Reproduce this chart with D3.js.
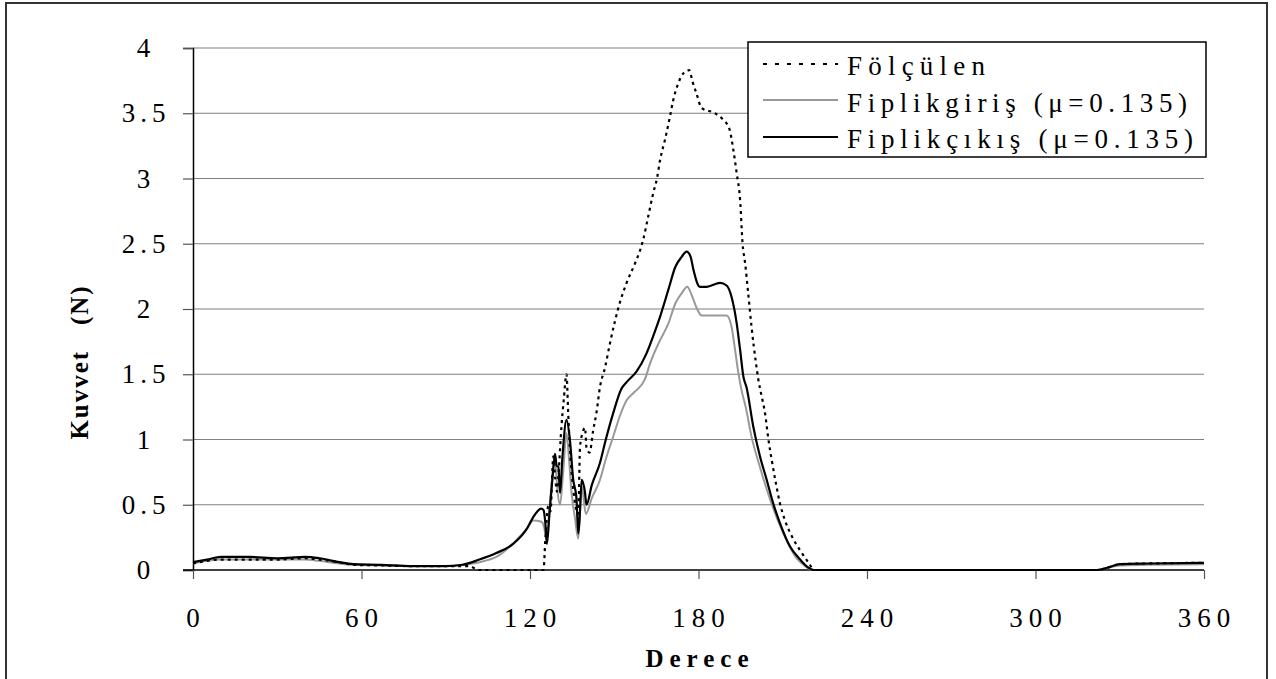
<!DOCTYPE html>
<html><head><meta charset="utf-8">
<script src="https://cdn.jsdelivr.net/npm/d3@7"></script>
<style>body{margin:0;background:#fff}svg{display:block}text{font-family:"Liberation Serif","Times New Roman",serif}</style>
</head><body>
<svg id="c" width="1276" height="679"></svg>
<script>
const xTicks = [0,60,120,180,240,300,360];
const yTicks = [0,0.5,1,1.5,2,2.5,3,3.5,4];
const yTickLabels = ["0","0.5","1","1.5","2","2.5","3","3.5","4"];
const seriesNames = ["Fölçülen","Fiplikgiriş (μ=0.135)","Fiplikçıkış (μ=0.135)"];

const degOlculen = [0,5,10,20,30,40,45,52,57,67,78,90,98,102,124.8,125.5,126.5,127.3,128.3,129,129.6,130.2,131.2,132,133,133.6,134.2,135.5,137.2,137.8,138.7,139.6,140.1,141.2,142.5,143.7,144.9,146.7,148.5,152,154.4,157.4,159.2,160.4,162.1,163.9,165.3,166.3,168.1,169.8,171,172.8,174.8,176.7,177.9,179.3,181.1,185.9,188.8,191,192.4,193.6,194.8,195.7,196.6,197.7,198.9,200.5,201.3,202.5,203.7,204.9,206.1,207.6,209,210.8,213.2,216.2,219.7,221,240,300,322,326,330,340,360];
const valOlculen = [0.05,0.07,0.08,0.08,0.08,0.09,0.08,0.06,0.04,0.035,0.03,0.03,0.03,0,0,0.25,0.49,0.45,0.87,0.70,0.60,0.75,1.10,1.30,1.50,1.20,0.94,0.60,0.43,0.94,1.05,1.09,0.94,0.90,1.07,1.21,1.40,1.55,1.74,2.05,2.20,2.35,2.45,2.54,2.71,2.89,3.01,3.14,3.30,3.47,3.60,3.73,3.81,3.83,3.74,3.65,3.54,3.50,3.45,3.38,3.22,3.04,2.84,2.50,2.35,2.12,1.86,1.58,1.46,1.33,1.20,1.00,0.84,0.66,0.51,0.38,0.26,0.15,0.04,0,0,0,0,0.02,0.045,0.05,0.055];

const degGiris = [0,5,10,20,30,40,45,52,57,67,78,90,96,102,108,115.2,119,121.2,124.1,125,125.9,127,128.9,129.8,130.7,131.8,133,133.9,134.8,136,137.2,138.4,139.9,142,144.9,147,149.6,152,154.4,157,160.9,162.7,166.3,169.3,171.7,174,176,177.5,179.3,181.1,190,191.8,193,194.2,195.3,196.8,198.9,202,205.5,210.2,214.9,218,220.5,240,300,322,326,330,340,360];
const valGiris = [0.05,0.07,0.08,0.08,0.08,0.08,0.07,0.05,0.04,0.035,0.03,0.03,0.04,0.06,0.10,0.23,0.32,0.38,0.37,0.33,0.23,0.50,0.84,0.60,0.50,0.75,1.05,0.85,0.59,0.40,0.24,0.64,0.43,0.55,0.69,0.85,1.02,1.18,1.30,1.36,1.46,1.58,1.76,1.89,2.04,2.12,2.17,2.11,2.01,1.95,1.95,1.86,1.69,1.51,1.38,1.25,1.02,0.78,0.54,0.28,0.09,0.03,0,0,0,0,0.02,0.035,0.04,0.045];

const degCikis = [0,5,10,20,30,40,45,52,57,67,78,90,96,102,108,114,119,121,124,124.8,125.5,126,127,128,128.9,129.5,130.1,130.7,131.5,133,134.2,135.4,136.5,137.2,137.8,138.4,139.6,140.1,142,144.9,147,149.6,152.6,154.4,157.9,161.5,164,166.3,169.3,171.7,174,175.8,177.2,178.2,180.5,182.9,187.7,190,191.8,193.6,194.8,196,197.1,199.5,201.9,204.3,206.6,209,212.6,216.2,219,221,240,300,322,326,330,340,360];
const valCikis = [0.06,0.08,0.10,0.10,0.09,0.10,0.09,0.06,0.045,0.04,0.03,0.03,0.04,0.08,0.13,0.20,0.32,0.40,0.47,0.46,0.35,0.20,0.45,0.70,0.89,0.80,0.79,0.59,0.85,1.15,1.00,0.69,0.56,0.28,0.45,0.69,0.59,0.50,0.65,0.82,1.00,1.20,1.39,1.44,1.52,1.66,1.80,1.94,2.15,2.32,2.40,2.44,2.40,2.30,2.17,2.17,2.20,2.18,2.09,1.89,1.69,1.48,1.40,1.10,0.87,0.69,0.51,0.36,0.18,0.08,0.02,0,0,0,0,0.02,0.045,0.05,0.055];

const svg = d3.select("#c");
const L = 193, R = 1204, T = 48, B = 570;
const x = d3.scaleLinear().domain([0,360]).range([L,R]);
const y = d3.scaleLinear().domain([0,4]).range([B,T]);

// outer frame
svg.append("rect").attr("x",6).attr("y",3).attr("width",1261).attr("height",700)
  .attr("fill","none").attr("stroke","#333").attr("stroke-width",2);

// gridlines
svg.append("g").selectAll("line").data(yTicks.filter(d=>d>0)).join("line")
  .attr("x1",L).attr("x2",R).attr("y1",d=>y(d)).attr("y2",d=>y(d))
  .attr("stroke","#808080").attr("stroke-width",1.2);

// y axis
const yAxis = svg.append("g").attr("transform",`translate(${L},0)`)
  .call(d3.axisLeft(y).tickValues(yTicks).tickSize(10).tickFormat(""));
yAxis.select(".domain").attr("stroke","#000").attr("stroke-width",1.5);
yAxis.selectAll(".tick line").attr("stroke","#555").attr("stroke-width",1.2);
svg.append("g").selectAll("text").data(yTicks).join("text")
  .attr("x",146).attr("y",d=>y(d)+9).attr("text-anchor","middle")
  .attr("font-size",27).style("letter-spacing","5px")
  .text((d,i)=>yTickLabels[i]);

// x axis
const xAxis = svg.append("g").attr("transform",`translate(0,${B})`)
  .call(d3.axisBottom(x).tickValues(xTicks).tickSize(9).tickFormat(""));
xAxis.select(".domain").attr("stroke","#000").attr("stroke-width",1.5).attr("d",`M${L-10},0H${R}`);
xAxis.selectAll(".tick line").attr("stroke","#555").attr("stroke-width",1.2);
svg.append("g").selectAll("text").data(xTicks).join("text")
  .attr("x",d=>x(d)+3).attr("y",627).attr("text-anchor","middle")
  .attr("font-size",27).style("letter-spacing","6px")
  .text(d=>String(d));

// axis titles
svg.append("text").attr("x",700).attr("y",667).attr("text-anchor","middle")
  .attr("font-size",25).attr("font-weight","bold").style("letter-spacing","6px").text("Derece");
svg.append("text").attr("transform","translate(88,362) rotate(-90)").attr("text-anchor","middle")
  .attr("font-size",25).attr("font-weight","bold").style("letter-spacing","2px").style("white-space","pre")
  .text("Kuvvet   (N)");

// lines
const line = d3.line().x(d=>x(d[0])).y(d=>y(d[1])).curve(d3.curveMonotoneX);
const zip = (a,b)=>a.map((d,i)=>[d,b[i]]);
svg.append("path").datum(zip(degGiris,valGiris)).attr("d",line)
  .attr("fill","none").attr("stroke","#999").attr("stroke-width",2);
svg.append("path").datum(zip(degOlculen,valOlculen)).attr("d",line)
  .attr("fill","none").attr("stroke","#000").attr("stroke-width",2.2).attr("stroke-dasharray","3,4");
svg.append("path").datum(zip(degCikis,valCikis)).attr("d",line)
  .attr("fill","none").attr("stroke","#000").attr("stroke-width",2.2);

// legend
const lg = svg.append("g");
lg.append("rect").attr("x",748).attr("y",42).attr("width",458).attr("height",115)
  .attr("fill","#fff").attr("stroke","#000").attr("stroke-width",1.5);
const rows = [
  {name:seriesNames[0], stroke:"#000", dash:"4,8", ly:64, ty:75, w:138},
  {name:seriesNames[1], stroke:"#999", dash:null, ly:100, ty:112, w:340},
  {name:seriesNames[2], stroke:"#000", dash:null, ly:137, ty:148, w:346}
];
rows.forEach(r=>{
  const ln = lg.append("line").attr("x1",763).attr("x2",838).attr("y1",r.ly).attr("y2",r.ly)
    .attr("stroke",r.stroke).attr("stroke-width",2);
  if(r.dash) ln.attr("stroke-dasharray",r.dash);
  lg.append("text").attr("x",847).attr("y",r.ty).attr("font-size",27)
    .attr("textLength",r.w).attr("lengthAdjust","spacing").text(r.name);
});
</script>
</body></html>
